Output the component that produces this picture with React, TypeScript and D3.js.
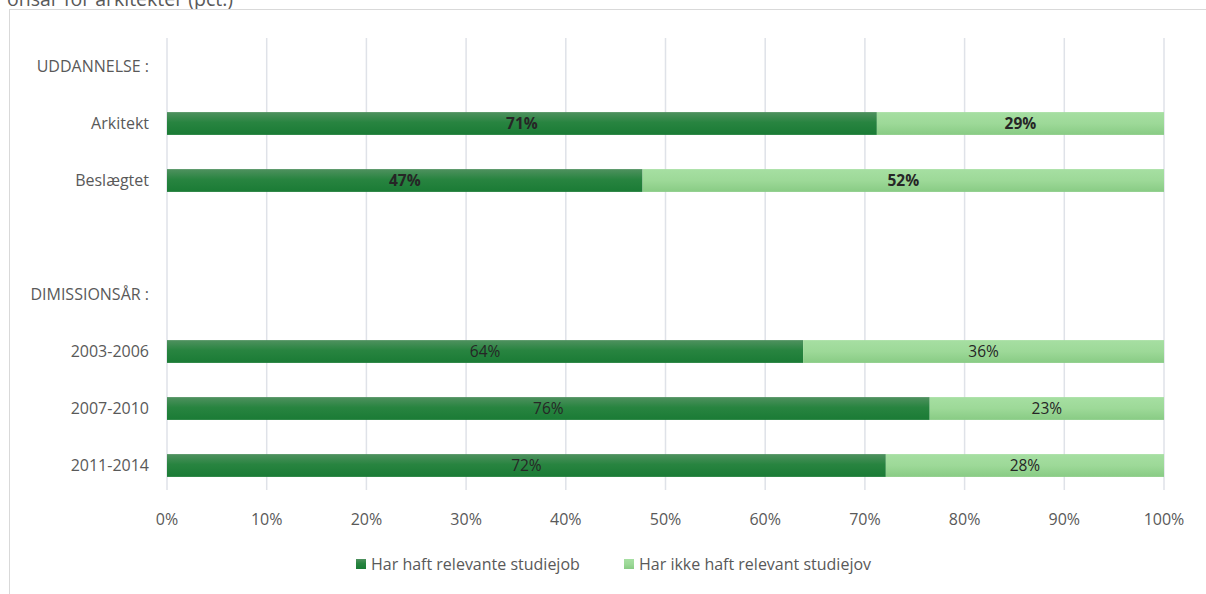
import React from "react";
import * as d3 from "d3";

const categories = ["UDDANNELSE :", "Arkitekt", "Beslægtet", "", "DIMISSIONSÅR :", "2003-2006", "2007-2010", "2011-2014"];
const barCategories = ["Arkitekt", "Beslægtet", "2003-2006", "2007-2010", "2011-2014"];
const relevant = [71.2, 47.7, 63.8, 76.5, 72.1];
const notRelevant = [28.8, 52.3, 36.2, 23.5, 27.9];
const relevantLabels = ["71%", "47%", "64%", "76%", "72%"];
const notRelevantLabels = ["29%", "52%", "36%", "23%", "28%"];
const boldRows = ["Arkitekt", "Beslægtet"];
const xTicks = [0, 10, 20, 30, 40, 50, 60, 70, 80, 90, 100];
const seriesNames = ["Har haft relevante studiejob", "Har ikke haft relevant studiejov"];
const titleText = "onsår for arkitekter (pct.)";

const W = 1206;
const H = 594;
const FONT = "'Open Sans', 'Noto Sans', sans-serif";

export default function App() {
  const x = d3.scaleLinear().domain([0, 100]).range([167, 1164]);
  const y = d3.scaleBand().domain(categories).range([38, 494]).paddingInner(0.6).paddingOuter(0.3);
  const bw = y.bandwidth();

  return (
    <svg width={W} height={H} style={{ position: "absolute", left: 0, top: 0, background: "#fff" }} fontFamily={FONT}>
      <defs>
        <linearGradient id="gDark" x1="0" y1="0" x2="0" y2="1">
          <stop offset="0" stopColor="#4f915f" />
          <stop offset="0.45" stopColor="#288440" />
          <stop offset="1" stopColor="#1a7b35" />
        </linearGradient>
        <linearGradient id="gLight" x1="0" y1="0" x2="0" y2="1">
          <stop offset="0" stopColor="#a6dfa2" />
          <stop offset="0.5" stopColor="#9dd998" />
          <stop offset="1" stopColor="#88cb84" />
        </linearGradient>
      </defs>
      <text x={7} y={6} fontSize={19.5} fill="#595959">{titleText}</text>
      <rect x={9.5} y={9.5} width={W + 10} height={H + 10} fill="#fff" stroke="#d9d9d9" />
      {xTicks.map((t) => (
        <line key={t} x1={x(t)} x2={x(t)} y1={38} y2={490} stroke="#dfe2e8" strokeWidth={1.5} />
      ))}
      {xTicks.map((t) => (
        <text key={"l" + t} x={x(t)} y={525} textAnchor="middle" fontSize={16} fill="#595959">{t + "%"}</text>
      ))}
      {categories.map((c, i) =>
        c ? (
          <text key={"c" + i} x={149} y={(y(c) as number) + bw / 2 + 5.5} textAnchor="end" fontSize={16} fill="#595959">{c}</text>
        ) : null
      )}
      {barCategories.map((c, i) => {
        const y0 = y(c) as number;
        const bold = boldRows.includes(c);
        const xa = x(0), xb = x(relevant[i]), xc = x(relevant[i] + notRelevant[i]);
        return (
          <g key={"b" + c}>
            <rect x={xa} y={y0} width={xb - xa} height={bw} fill="url(#gDark)" />
            <rect x={xb} y={y0} width={xc - xb} height={bw} fill="url(#gLight)" />
            <text x={(xa + xb) / 2} y={y0 + bw / 2 + 5.5} textAnchor="middle" fontSize={15.5} fontWeight={bold ? "bold" : "normal"} fill="#262626">{relevantLabels[i]}</text>
            <text x={(xb + xc) / 2} y={y0 + bw / 2 + 5.5} textAnchor="middle" fontSize={15.5} fontWeight={bold ? "bold" : "normal"} fill="#262626">{notRelevantLabels[i]}</text>
          </g>
        );
      })}
      <rect x={356} y={559} width={10} height={10} fill="url(#gDark)" />
      <text x={371} y={569.5} fontSize={16} fill="#595959">{seriesNames[0]}</text>
      <rect x={624} y={559} width={10} height={10} fill="url(#gLight)" />
      <text x={639} y={569.5} fontSize={16} fill="#595959">{seriesNames[1]}</text>
    </svg>
  );
}
